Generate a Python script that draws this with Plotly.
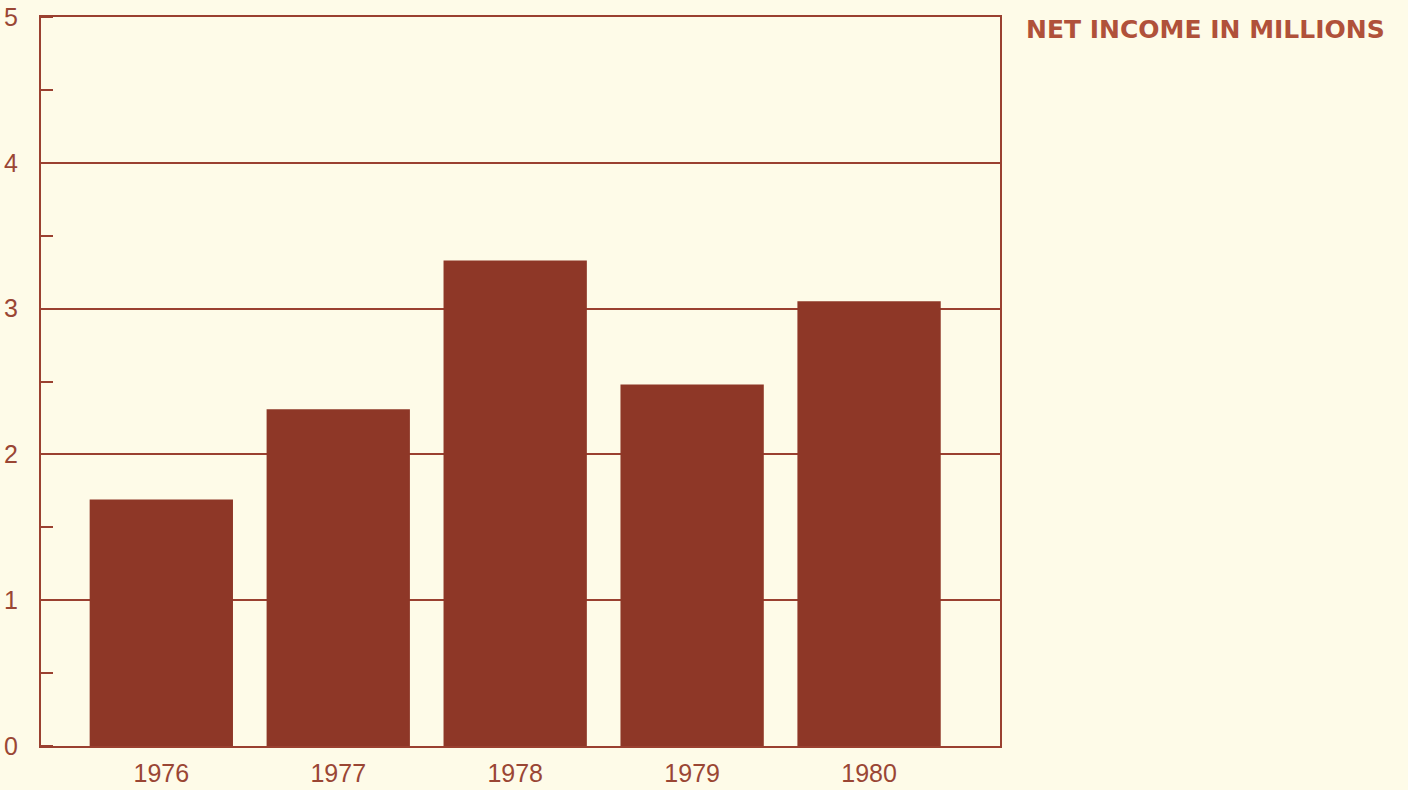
import plotly.graph_objects as go

years = ["1976", "1977", "1978", "1979", "1980"]
net_income = [1.69, 2.31, 3.33, 2.48, 3.05]
y_ticks = [0, 1, 2, 3, 4, 5]

line_col = "#9a4030"
bar_col = "#8e3727"
text_col = "#9a4634"
bg = "#fefbe8"

fig = go.Figure(go.Bar(x=years, y=net_income, marker=dict(color=bar_col, line=dict(width=0)), width=0.81))

fig.update_layout(
    width=1408, height=790,
    margin=dict(l=41, r=408, t=17, b=44, autoexpand=False),
    paper_bgcolor=bg, plot_bgcolor=bg,
    showlegend=False,
    font=dict(family="Liberation Sans, Arial, sans-serif", color=text_col, size=25),
    bargap=0.19,
)
fig.update_xaxes(
    type="category", range=[-0.68, 4.74], automargin=False,
    showline=True, linecolor=line_col, linewidth=2, mirror=True,
    ticks="", showgrid=False, tickfont=dict(size=25, color=text_col),
    ticklabelstandoff=4,
)
fig.update_yaxes(
    range=[0, 5], tickvals=y_ticks, automargin=False,
    showline=True, linecolor=line_col, linewidth=2, mirror=True,
    showgrid=True, gridcolor=line_col, gridwidth=1.5,
    zeroline=False, ticks="",
    minor=dict(dtick=0.5, ticks="inside", ticklen=12, tickcolor=line_col, tickwidth=1.5, showgrid=False),
    tickfont=dict(size=25, color=text_col), ticklabelstandoff=16,
)
fig.add_annotation(
    text="<b>NET INCOME IN MILLIONS</b>", xref="paper", yref="paper",
    x=1.0, y=1.0, xshift=24, yshift=4, xanchor="left", yanchor="top",
    showarrow=False, font=dict(size=25, color="#b0513a", family="DejaVu Sans, sans-serif"),
)
fig.write_html("out.html")
